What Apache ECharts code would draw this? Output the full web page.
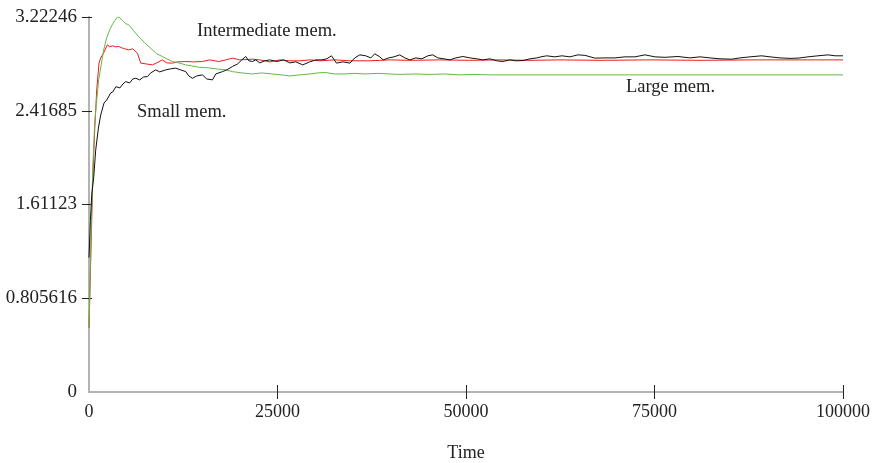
<!DOCTYPE html>
<html>
<head>
<meta charset="utf-8">
<script src="https://cdn.jsdelivr.net/npm/echarts@6/dist/echarts.min.js"></script>
<style>html,body{margin:0;padding:0;background:#fff}#c{width:874px;height:463px}</style>
</head>
<body>
<div id="c"></div>
<script>
// ---- data ----
const yTickLabels = ['0', '0.805616', '1.61123', '2.41685', '3.22246'];
const xTickLabels = ['0', '25000', '50000', '75000', '100000'];
const yMax = 3.22246;
const xMax = 100000;

// Black series
const blackTime = [0,186,358,624,889,1247,1552,1990,2348,2879,3145,3570,4100,4500,4870,5400,5800,6196,6730,7257,7748,8186,8850,9380,10177,10840,11503,12167,12830,13228,13719,14290,15046,15616,16373,16811,17700,18270,19026,19730,20260,20790,21190,21680,22120,22650,23310,23980,24900,25830,26630,27420,28350,29280,30080,30870,31540,32160,32820,33660,34590,35250,35920,36710,37380,37900,38570,39010,39760,40430,41220,41890,42550,43350,44140,44940,45600,46270,47060,47860,48650,49580,50510,51440,52230,53160,54090,54890,55820,56620,57550,58480,59400,59940,60690,61790,62720,63780,64840,65770,67100,68430,69750,71080,72410,73730,75060,76390,78110,79700,81030,82360,83690,85240,86340,87670,89210,90320,91640,92970,94030,95360,96680,98010,98940,100000];
const blackValue = [1.155,1.475,1.690,1.845,2.078,2.268,2.380,2.483,2.509,2.570,2.578,2.624,2.613,2.647,2.667,2.656,2.690,2.696,2.682,2.708,2.710,2.742,2.768,2.751,2.768,2.777,2.783,2.768,2.753,2.716,2.696,2.716,2.725,2.690,2.682,2.733,2.753,2.768,2.797,2.820,2.854,2.883,2.846,2.840,2.854,2.828,2.846,2.854,2.840,2.854,2.828,2.837,2.811,2.837,2.854,2.854,2.863,2.889,2.826,2.837,2.826,2.871,2.897,2.889,2.871,2.906,2.880,2.854,2.871,2.880,2.897,2.871,2.854,2.871,2.863,2.889,2.897,2.871,2.863,2.854,2.871,2.883,2.871,2.863,2.854,2.863,2.846,2.840,2.854,2.846,2.848,2.863,2.871,2.880,2.889,2.880,2.889,2.880,2.897,2.893,2.869,2.871,2.871,2.880,2.880,2.897,2.880,2.876,2.883,2.871,2.880,2.871,2.863,2.860,2.871,2.880,2.889,2.880,2.871,2.867,2.869,2.880,2.889,2.897,2.889,2.889];

// Red series
const redTime = [0,226,491,756,1022,1327,1552,1950,2441,2746,3145,3543,3941,4339,4737,5267,5798,6422,6860,7523,8412,8982,9739,10310,11065,11770,12830,13890,15046,16010,17210,18140,19026,20000,21680,22650,23980,25300,26630,27960,29280,30610,32600,34590,37240,39900,42550,46530,50510,54490,58480,62460,67770,74400,81030,87670,94300,100000];
const redValue = [0.552,1.130,1.819,2.251,2.596,2.826,2.871,2.915,2.984,2.966,2.975,2.966,2.969,2.958,2.949,2.940,2.949,2.912,2.826,2.820,2.811,2.828,2.854,2.828,2.826,2.837,2.840,2.837,2.840,2.854,2.840,2.854,2.869,2.854,2.860,2.854,2.837,2.854,2.846,2.846,2.854,2.846,2.854,2.846,2.846,2.854,2.850,2.854,2.850,2.854,2.850,2.854,2.850,2.854,2.850,2.854,2.854,2.854];

// Green series
const greenTime = [0,226,491,756,1022,1287,1552,1950,2348,2746,3145,3410,3768,4073,4471,4870,5267,5930,6594,7390,8412,8982,9739,10310,11065,11900,12830,13626,14555,15882,17210,18140,19026,20260,21680,22910,24240,25570,26630,27960,29280,30340,31270,32600,33930,35250,36580,38300,39900,41220,43220,45200,47190,49180,51170,53160,54090,100000];
const greenValue = [0.552,1.216,1.906,2.311,2.509,2.682,2.785,2.940,3.044,3.113,3.165,3.191,3.222,3.216,3.191,3.165,3.156,3.104,3.053,3.001,2.940,2.906,2.883,2.863,2.840,2.828,2.811,2.802,2.791,2.785,2.774,2.768,2.753,2.742,2.733,2.742,2.733,2.725,2.716,2.725,2.733,2.742,2.746,2.733,2.733,2.738,2.733,2.738,2.733,2.729,2.733,2.729,2.733,2.725,2.729,2.725,2.725,2.725];

const labels = [
  {text: 'Intermediate mem.', left: 197, top: 22},
  {text: 'Small mem.', left: 137, top: 103},
  {text: 'Large mem.', left: 626, top: 78}
];

// ---- chart ----
const pairs = (t, v) => t.map((x, i) => [x, v[i]]);
const FONT = '"Liberation Serif", "DejaVu Serif", serif';
const yInt = yMax / 4;
const xInt = xMax / 4;
const xTickVals = xTickLabels.map((_, i) => i * xInt).slice(1);
const yTickVals = yTickLabels.map((_, i) => i * yInt).slice(1);

const chart = echarts.init(document.getElementById('c'), null, {renderer: 'canvas'});

const baseX = {
  type: 'value', min: 0, max: xMax, interval: xInt,
  splitLine: {show: false}
};
const baseY = {
  type: 'value', min: 0, max: yMax, interval: yInt,
  splitLine: {show: false}
};

chart.setOption({
  animation: false,
  backgroundColor: '#fff',
  grid: {left: 89, right: 31, top: 17, bottom: 71, containLabel: false, outerBoundsMode: 'none'},
  xAxis: [
    Object.assign({}, baseX, {
      position: 'bottom',
      axisLine: {show: true, lineStyle: {color: '#b3b3b3', width: 2}},
      axisTick: {show: true, inside: false, length: 7, customValues: xTickVals, lineStyle: {color: '#222', width: 1}},
      axisLabel: {
        margin: 11, color: '#222', fontFamily: FONT, fontSize: 18,
        formatter: v => xTickLabels[Math.round(v / xInt)] ?? ''
      },
      name: 'Time', nameLocation: 'middle', nameGap: 52,
      nameTextStyle: {color: '#222', fontFamily: FONT, fontSize: 18}
    }),
    Object.assign({}, baseX, {
      position: 'bottom',
      axisLine: {show: false},
      axisTick: {show: true, inside: true, length: 7, customValues: xTickVals, lineStyle: {color: '#222', width: 1}},
      axisLabel: {show: false}
    })
  ],
  yAxis: [
    Object.assign({}, baseY, {
      position: 'left',
      axisLine: {show: true, lineStyle: {color: '#b3b3b3', width: 2}},
      axisTick: {show: true, inside: false, length: 7, customValues: yTickVals, lineStyle: {color: '#222', width: 1}},
      axisLabel: {
        margin: 12, color: '#222', fontFamily: FONT, fontSize: 19,
        formatter: v => yTickLabels[Math.round(v / yInt)] ?? ''
      }
    }),
    Object.assign({}, baseY, {
      position: 'left',
      axisLine: {show: false},
      axisTick: {show: true, inside: true, length: 3, customValues: yTickVals, lineStyle: {color: '#222', width: 1}},
      axisLabel: {show: false}
    })
  ],
  series: [
    {type: 'line', name: 'red', data: pairs(redTime, redValue), showSymbol: false, symbol: 'none',
     lineStyle: {color: '#ee1c1c', width: 1}, itemStyle: {color: '#ee1c1c'}, z: 2},
    {type: 'line', name: 'green', data: pairs(greenTime, greenValue), showSymbol: false, symbol: 'none',
     lineStyle: {color: '#62b946', width: 1}, itemStyle: {color: '#62b946'}, z: 3},
    {type: 'line', name: 'black', data: pairs(blackTime, blackValue), showSymbol: false, symbol: 'none',
     lineStyle: {color: '#111', width: 1}, itemStyle: {color: '#111'}, z: 4}
  ],
  graphic: labels.map(l => ({
    type: 'text', left: l.left, top: l.top,
    style: {text: l.text, fill: '#222', font: '18.5px ' + FONT}
  }))
});
</script>
</body>
</html>
